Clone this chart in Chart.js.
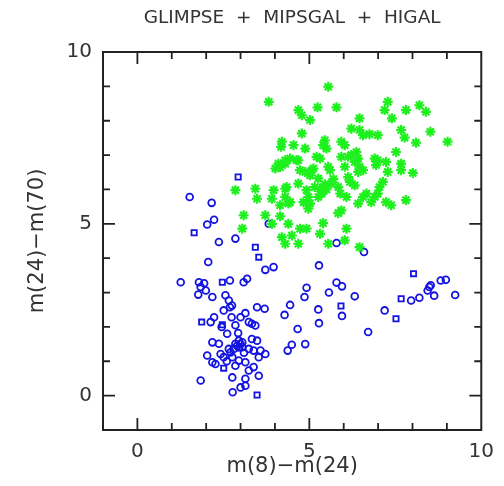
<!DOCTYPE html>
<html>
<head>
<meta charset="utf-8">
<script src="https://cdn.jsdelivr.net/npm/chart.js@4"></script>
<style>
  html, body { margin: 0; padding: 0; background: #fff; }
  #wrap { width: 504px; height: 486px; }
</style>
</head>
<body>
<div id="wrap"><canvas id="plot"></canvas></div>
<script>
// colour-colour points, [m(8)-m(24), m(24)-m(70)]
const greenPts = [
  [5.55,8.99],[4.68,8.31],[4.78,8.16],[5.02,8.02],[5.24,8.39],[5.79,8.39],[7.28,8.55],[7.19,8.31],
  [7.40,8.07],[7.81,8.31],[8.20,8.45],[8.39,8.26],[6.46,8.07],[6.22,7.77],[6.46,7.73],[6.56,7.58],
  [6.75,7.61],[6.99,7.58],[7.67,7.73],[7.77,7.51],[8.10,7.36],[8.52,7.68],[9.02,7.39],[4.78,7.63],
  [4.20,7.39],[4.18,7.24],[4.54,7.29],[4.88,7.19],[5.45,7.43],[5.40,7.29],[5.50,7.19],[5.93,7.39],
  [6.03,7.29],[7.52,7.09],[5.93,6.95],[6.13,6.95],[6.22,7.00],[6.37,7.09],[6.42,6.90],[6.32,6.80],
  [5.21,6.95],[5.31,6.90],[4.44,6.90],[4.30,6.75],[4.15,6.65],[4.68,6.85],[6.90,6.90],[6.99,6.85],
  [6.94,6.71],[7.23,6.80],[7.67,6.75],[7.67,6.56],[5.55,6.66],[5.60,6.56],[6.03,6.66],[6.13,6.36],
  [6.18,6.22],[6.32,6.12],[6.46,6.66],[6.56,6.56],[6.42,6.51],[7.28,6.51],[8.01,6.48],[4.88,6.51],
  [5.07,6.56],[5.02,6.41],[5.26,6.32],[5.16,6.07],[5.31,6.02],[5.36,5.88],[5.26,5.78],[4.68,6.17],
  [4.30,6.02],[5.64,6.17],[5.84,6.07],[5.90,5.88],[6.08,5.78],[7.14,6.22],[7.04,6.07],[6.99,5.88],
  [6.90,5.78],[6.66,5.88],[6.56,5.78],[6.42,5.59],[6.80,5.63],[7.23,5.63],[7.38,5.54],[7.81,5.69],
  [4.83,5.63],[5.02,5.59],[4.97,5.44],[4.44,5.63],[4.15,5.54],[5.93,5.39],[5.84,5.31],[4.39,5.00],
  [4.73,4.86],[4.92,4.86],[5.40,5.02],[6.08,4.86],[6.03,4.52],[6.46,4.32],[3.82,8.55],[4.10,6.75],
  [4.30,6.85],[4.63,6.85],[4.01,6.61],[4.73,6.56],[5.12,6.61],[4.92,5.98],[4.97,5.78],[2.85,5.98],
  [3.43,6.02],[3.48,5.73],[3.96,5.98],[3.91,5.73],[4.34,6.07],[4.30,5.78],[4.39,5.59],[3.72,5.25],
  [4.15,5.22],[3.09,5.25],[3.05,4.86],[4.20,4.61],[4.30,4.42],[4.49,4.66],[5.31,4.71],[5.55,4.42],
  [4.68,4.42],[3.91,5.00],[5.45,6.15],[5.50,6.00],[5.70,6.30],[5.40,5.95]
];

const blueCircles = [
  [1.52,5.78],[2.16,5.61],[2.23,5.12],[2.03,4.98],[2.37,4.47],[2.85,4.57],[3.82,5.00],[3.72,3.66],
  [3.96,3.74],[2.06,3.89],[1.26,3.30],[1.79,3.30],[1.94,3.27],[1.84,3.16],[1.99,3.06],[2.69,3.35],
  [3.09,3.30],[3.19,3.40],[2.18,2.87],[2.56,2.92],[1.77,2.94],[2.66,2.77],[2.69,2.57],[2.75,2.62],
  [2.51,2.48],[2.74,2.28],[3.00,2.28],[3.14,2.40],[3.48,2.57],[3.70,2.53],[2.13,2.14],[2.23,2.28],
  [3.24,2.14],[3.43,2.04],[3.33,2.09],[2.61,1.80],[2.93,1.82],[2.85,1.51],[2.80,1.36],[2.95,1.60],
  [2.18,1.55],[2.37,1.51],[3.33,1.65],[3.48,1.60],[3.05,1.41],[3.24,1.36],[3.38,1.31],[3.58,1.31],
  [3.72,1.21],[3.53,1.12],[2.03,1.17],[2.18,0.97],[2.27,0.92],[2.42,1.21],[2.51,1.12],[2.71,1.26],
  [2.76,1.12],[2.95,1.02],[3.14,0.97],[2.85,0.87],[3.24,0.73],[3.38,0.83],[3.53,0.58],[2.76,0.53],
  [3.14,0.49],[3.00,0.24],[3.14,0.29],[2.77,0.10],[1.84,0.44],[2.66,1.36],[3.05,1.55],[2.90,1.45],
  [3.00,1.50],[2.95,1.40],[3.10,1.25],[2.60,1.00],[2.45,2.00],[2.85,2.05],
  [5.79,4.44],[6.59,4.18],[5.28,3.79],[4.92,3.14],[4.86,2.87],[4.44,2.64],[4.28,2.35],[5.57,3.00],
  [5.79,3.29],[5.95,3.18],[6.32,2.89],[5.95,2.32],[5.26,2.51],[5.28,2.11],[4.66,1.94],[4.49,1.48],
  [4.37,1.31],[4.88,1.50],[6.71,1.85],[7.19,2.48],[7.96,2.77],[8.20,2.85],[8.49,3.16],[8.53,3.21],
  [8.44,3.06],[8.63,2.91],[8.82,3.35],[8.97,3.37],[9.24,2.93]
];

const blueSquares = [
  [1.65,4.74],[3.53,4.03],[3.43,4.32],[2.47,3.30],[1.87,2.14],[2.47,2.06],[2.51,0.80],[3.48,0.02],
  [2.93,6.36],[8.03,3.55],[5.92,2.61],[7.52,2.24],[7.67,2.82]
];

const xRange = [-1, 10];
const yRange = [-1, 10];
const labelledTicks = [0, 5, 10];

const toXY = arr => arr.map(p => ({x: p[0], y: p[1]}));
const FONT = 'DejaVu Sans';

// box around the plot with inward ticks on all four sides
const framePlugin = {
  id: 'frame',
  afterDatasetsDraw(chart) {
    const {ctx, chartArea: a, scales} = chart;
    ctx.save();
    ctx.strokeStyle = '#222';
    ctx.lineWidth = 2;
    ctx.strokeRect(a.left, a.top, a.right - a.left, a.bottom - a.top);
    ctx.lineWidth = 1.8;
    ctx.beginPath();
    for (let v = xRange[0] + 1; v < xRange[1]; v++) {
      const px = scales.x.getPixelForValue(v);
      const len = v % 5 === 0 ? 12 : 7;
      ctx.moveTo(px, a.bottom); ctx.lineTo(px, a.bottom - len);
      ctx.moveTo(px, a.top); ctx.lineTo(px, a.top + len);
    }
    for (let v = yRange[0] + 1; v < yRange[1]; v++) {
      const py = scales.y.getPixelForValue(v);
      const len = v % 5 === 0 ? 12 : 7;
      ctx.moveTo(a.left, py); ctx.lineTo(a.left + len, py);
      ctx.moveTo(a.right, py); ctx.lineTo(a.right - len, py);
    }
    ctx.stroke();
    ctx.restore();
  }
};

new Chart(document.getElementById('plot'), {
  type: 'scatter',
  data: {
    datasets: [
      {
        label: 'higal',
        data: toXY(greenPts),
        pointStyle: 'star',
        radius: 5,
        borderWidth: 2.2,
        borderColor: 'rgb(30,240,30)',
        backgroundColor: 'rgb(30,240,30)'
      },
      {
        label: 'circles',
        data: toXY(blueCircles),
        pointStyle: 'circle',
        radius: 3.4,
        borderWidth: 1.8,
        borderColor: 'rgb(20,20,225)',
        backgroundColor: 'rgba(0,0,0,0)'
      },
      {
        label: 'squares',
        data: toXY(blueSquares),
        pointStyle: 'rect',
        radius: 3.7,
        borderWidth: 1.8,
        borderColor: 'rgb(20,20,225)',
        backgroundColor: 'rgba(0,0,0,0)'
      }
    ]
  },
  options: {
    responsive: true,
    maintainAspectRatio: false,
    animation: false,
    layout: { padding: { left: 0, right: 21, top: 0, bottom: 0 } },
    plugins: {
      legend: { display: false },
      tooltip: { enabled: false },
      title: { display: false }
    },
    scales: {
      x: {
        type: 'linear',
        position: 'bottom',
        min: xRange[0], max: xRange[1],
        afterFit: s => { s.height = 56; },
        grid: { display: false, drawTicks: false },
        border: { display: false },
        ticks: {
          stepSize: 1, autoSkip: false, maxRotation: 0, padding: 10,
          color: '#333', font: { family: FONT, size: 20 },
          callback: v => labelledTicks.includes(v) ? String(v) : ''
        },
        title: {
          display: true, text: 'm(8)\u2212m(24)', color: '#333',
          font: { family: FONT, size: 21 }, padding: { top: 0, bottom: 7 }
        }
      },
      top: {
        type: 'linear',
        position: 'top',
        min: xRange[0], max: xRange[1],
        afterFit: s => { s.height = 52; },
        grid: { display: false, drawTicks: false },
        border: { display: false },
        ticks: { display: false },
        title: {
          display: true, text: 'GLIMPSE  +  MIPSGAL  +  HIGAL', color: '#333',
          font: { family: FONT, size: 18.5 }, padding: { top: 7, bottom: 0 }
        }
      },
      y: {
        type: 'linear',
        position: 'left',
        min: yRange[0], max: yRange[1],
        afterFit: s => { s.width = 103; },
        grid: { display: false, drawTicks: false },
        border: { display: false },
        ticks: {
          stepSize: 1, autoSkip: false, padding: 11,
          color: '#333', font: { family: FONT, size: 20 },
          callback: v => labelledTicks.includes(v) ? String(v) : ''
        },
        title: {
          display: true, text: 'm(24)\u2212m(70)', color: '#333',
          font: { family: FONT, size: 21 }, padding: { top: 25, bottom: 0 }
        }
      }
    }
  },
  plugins: [framePlugin]
});
</script>
</body>
</html>
